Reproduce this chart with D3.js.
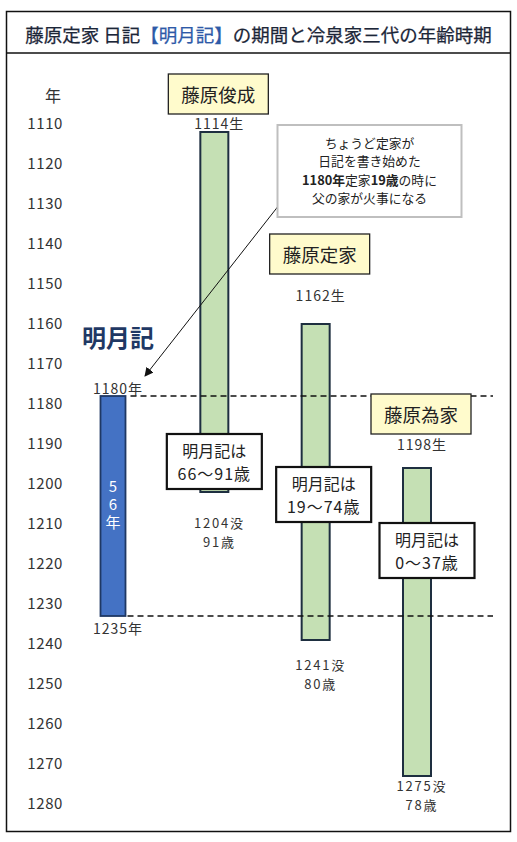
<!DOCTYPE html>
<html lang="ja">
<head>
    <meta charset="UTF-8">
    <title>明月記の期間と冷泉家三代</title>
    <script src="https://cdn.jsdelivr.net/npm/d3@7"></script>
    <style>
        html, body { margin: 0; padding: 0; background: #fff; }
        svg { display: block; font-family: "Noto Sans CJK JP", "Noto Sans", sans-serif; }
    </style>
</head>
<body>
    <svg width="517" height="842"></svg>
    <script>
        // data
        const tickYears = [1110, 1120, 1130, 1140, 1150, 1160, 1170, 1180, 1190, 1200,
                           1210, 1220, 1230, 1240, 1250, 1260, 1270, 1280];
        const people = ["藤原俊成", "藤原定家", "藤原為家"];
        const born = [1114, 1162, 1198];
        const died = [1204, 1241, 1275];
        const ageAtDeath = [91, 80, 78];
        const diaryAges = ["66～91歳", "19～74歳", "0～37歳"];
        const diaryName = "明月記";
        const diaryStart = 1180;
        const diaryEnd = 1235;
        const diaryLength = "56年";
        const note = ["ちょうど定家が", "日記を書き始めた"];

        // hand placed label layout (offsets from the bars)
        const layout = {
            nameGap: [18, 50, 34],     // name box bottom above bar top
            bornGap: [9, 29, 24],      // birth label center above bar top
            diedGap: [31, 25, 10],     // death label center below bar bottom
            ageTop: [434, 467, 523],
            ageDx: [0, 8, 10]
        };

        const W = 517, H = 842;
        const svg = d3.select("svg");

        const y = d3.scaleLinear().domain([1110, 1280]).range([116, 796]);
        const x = d3.scalePoint()
            .domain([diaryName, ...people])
            .range([113, 417]);

        const navy = "#1f3864";
        const ink = "#1c2638";

        // frame + title
        svg.append("rect")
            .attr("x", 6.5).attr("y", 11.5)
            .attr("width", 504).attr("height", 820)
            .attr("fill", "#fff").attr("stroke", "#111").attr("stroke-width", 1.5);
        svg.append("line")
            .attr("x1", 6.5).attr("x2", 510.5).attr("y1", 53).attr("y2", 53)
            .attr("stroke", "#111").attr("stroke-width", 1.5);

        const title = svg.append("text")
            .attr("x", W / 2).attr("y", 34)
            .attr("text-anchor", "middle").attr("dominant-baseline", "central")
            .attr("font-size", 18.5).attr("fill", ink)
            .attr("stroke", ink).attr("stroke-width", 0.25);
        title.append("tspan").text("藤原定家 日記");
        title.append("tspan").attr("fill", "#2e5aa8").attr("stroke", "#2e5aa8").text("【" + diaryName + "】");
        title.append("tspan").text("の期間と冷泉家三代の年齢時期");

        // axis
        svg.append("text")
            .attr("x", 53).attr("y", 95)
            .attr("text-anchor", "middle").attr("dominant-baseline", "central")
            .attr("font-size", 16).attr("fill", "#333").text("年");

        const axis = d3.axisLeft(y).tickValues(tickYears).tickFormat(d3.format("d")).tickSize(0).tickPadding(0);
        const ag = svg.append("g").attr("transform", "translate(63,7.3)").call(axis);
        ag.select(".domain").remove();
        ag.selectAll("text")
            .attr("font-family", "Noto Sans CJK JP")
            .attr("font-size", 15).attr("letter-spacing", 0.6)
            .attr("fill", "#333");

        // diary period bar
        const bw = 25, gw = 28;
        svg.append("rect")
            .attr("x", x(diaryName) - bw / 2).attr("y", y(diaryStart))
            .attr("width", bw).attr("height", y(diaryEnd) - y(diaryStart))
            .attr("fill", "#4472c4").attr("stroke", navy).attr("stroke-width", 1.8);

        const mid = (y(diaryStart) + y(diaryEnd)) / 2;
        svg.append("text")
            .attr("x", x(diaryName)).attr("y", mid)
            .attr("text-anchor", "middle").attr("dominant-baseline", "central")
            .style("writing-mode", "vertical-rl").style("text-orientation", "upright")
            .attr("font-size", 15).attr("letter-spacing", 3).attr("fill", "#fff")
            .text(diaryLength);

        svg.append("text")
            .attr("x", x(diaryName) + 5).attr("y", y(diaryStart) - 8)
            .attr("text-anchor", "middle").attr("dominant-baseline", "central")
            .attr("font-size", 14).attr("letter-spacing", 1).attr("fill", "#333")
            .text(diaryStart + "年");
        svg.append("text")
            .attr("x", x(diaryName) + 5).attr("y", y(diaryEnd) + 12)
            .attr("text-anchor", "middle").attr("dominant-baseline", "central")
            .attr("font-size", 14).attr("letter-spacing", 1).attr("fill", "#333")
            .text(diaryEnd + "年");

        svg.append("text")
            .attr("x", x(diaryName) + 5).attr("y", 336)
            .attr("text-anchor", "middle").attr("dominant-baseline", "central")
            .attr("font-size", 24).attr("font-weight", "bold").attr("fill", navy)
            .text(diaryName);

        // life bars
        svg.append("g").selectAll("rect")
            .data(people)
            .join("rect")
            .attr("x", d => x(d) - gw / 2)
            .attr("y", (d, i) => y(born[i]))
            .attr("width", gw)
            .attr("height", (d, i) => y(died[i]) - y(born[i]))
            .attr("fill", "#c5e0b4").attr("stroke", "#1e2f40").attr("stroke-width", 2);

        // dashed guide lines at diary start / end
        svg.append("g").selectAll("line")
            .data([diaryStart, diaryEnd])
            .join("line")
            .attr("x1", (d, i) => x(diaryName) + bw / 2 + (i ? 2 : 5))
            .attr("x2", 493)
            .attr("y1", d => y(d)).attr("y2", d => y(d))
            .attr("stroke", "#111").attr("stroke-width", 1.6)
            .attr("stroke-dasharray", "6,4");

        // name boxes
        const nb = svg.append("g").selectAll("g")
            .data(people)
            .join("g")
            .attr("transform", (d, i) => `translate(${x(d) + 4},${y(born[i]) - layout.nameGap[i] - 20})`);
        nb.append("rect")
            .attr("x", -50).attr("y", -20).attr("width", 100).attr("height", 40)
            .attr("fill", "#fffbcc").attr("stroke", "#222").attr("stroke-width", 1.3);
        nb.append("text")
            .attr("text-anchor", "middle").attr("dominant-baseline", "central")
            .attr("font-size", 18.5).attr("fill", "#222")
            .text(d => d);

        // birth / death labels
        svg.append("g").selectAll("text")
            .data(people)
            .join("text")
            .attr("x", d => x(d) + 5)
            .attr("y", (d, i) => y(born[i]) - layout.bornGap[i])
            .attr("text-anchor", "middle").attr("dominant-baseline", "central")
            .attr("font-size", 14).attr("letter-spacing", 1).attr("fill", "#333")
            .text((d, i) => born[i] + "生");

        const deathLines = people.flatMap((d, i) => [
            { p: d, text: died[i] + "没", yy: y(died[i]) + layout.diedGap[i] - 1 },
            { p: d, text: ageAtDeath[i] + "歳", yy: y(died[i]) + layout.diedGap[i] + 18.5 }
        ]);
        svg.append("g").selectAll("text")
            .data(deathLines)
            .join("text")
            .attr("x", d => x(d.p) + 5)
            .attr("y", d => d.yy)
            .attr("text-anchor", "middle").attr("dominant-baseline", "central")
            .attr("font-size", 13).attr("letter-spacing", 1.8).attr("fill", "#333")
            .text(d => d.text);

        // age during the diary
        const ab = svg.append("g").selectAll("g")
            .data(people)
            .join("g")
            .attr("transform", (d, i) => `translate(${x(d) + layout.ageDx[i]},${layout.ageTop[i]})`);
        ab.append("rect")
            .attr("x", -47.5).attr("y", 0).attr("width", 95).attr("height", 55)
            .attr("fill", "#fff").attr("stroke", "#111").attr("stroke-width", 2.2);
        ab.append("text")
            .attr("y", 16).attr("text-anchor", "middle").attr("dominant-baseline", "central")
            .attr("font-size", 16).attr("fill", "#222")
            .text(diaryName + "は");
        ab.append("text")
            .attr("y", 38.5).attr("text-anchor", "middle").attr("dominant-baseline", "central")
            .attr("font-size", 16).attr("letter-spacing", 1).attr("fill", "#222")
            .text((d, i) => diaryAges[i]);

        // annotation box + arrow
        const bx = 277.5, by = 125, bwid = 184, bh = 92;
        svg.append("defs").append("marker")
            .attr("id", "ah").attr("viewBox", "0 0 10 10")
            .attr("refX", 9).attr("refY", 5)
            .attr("markerWidth", 9).attr("markerHeight", 9)
            .attr("orient", "auto-start-reverse")
            .append("path").attr("d", "M0,0L10,5L0,10Z").attr("fill", "#111");

        svg.append("line")
            .attr("x1", bx).attr("y1", by + bh - 10)
            .attr("x2", x(diaryName) + 32).attr("y2", y(diaryStart) - 20)
            .attr("stroke", "#111").attr("stroke-width", 1)
            .attr("marker-end", "url(#ah)");

        svg.append("rect")
            .attr("x", bx).attr("y", by).attr("width", bwid).attr("height", bh)
            .attr("fill", "#fff").attr("stroke", "#bfbfbf").attr("stroke-width", 2);

        const cx = bx + bwid / 2;
        svg.append("g").selectAll("text")
            .data(note)
            .join("text")
            .attr("x", cx).attr("y", (d, i) => by + 17.5 + i * 18.3)
            .attr("text-anchor", "middle").attr("dominant-baseline", "central")
            .attr("font-size", 12.8).attr("fill", "#222")
            .text(d => d);
        const l3 = svg.append("text")
            .attr("x", cx).attr("y", by + 17.5 + 2 * 18.3)
            .attr("text-anchor", "middle").attr("dominant-baseline", "central")
            .attr("font-size", 12.8).attr("fill", "#222");
        l3.append("tspan").attr("font-weight", "bold").text(diaryStart + "年");
        l3.append("tspan").text("定家");
        l3.append("tspan").attr("font-weight", "bold").text((diaryStart - born[1] + 1) + "歳");
        l3.append("tspan").text("の時に");
        svg.append("text")
            .attr("x", cx).attr("y", by + 17.5 + 3 * 18.3)
            .attr("text-anchor", "middle").attr("dominant-baseline", "central")
            .attr("font-size", 12.8).attr("fill", "#222")
            .text("父の家が火事になる");
    </script>
</body>
</html>
